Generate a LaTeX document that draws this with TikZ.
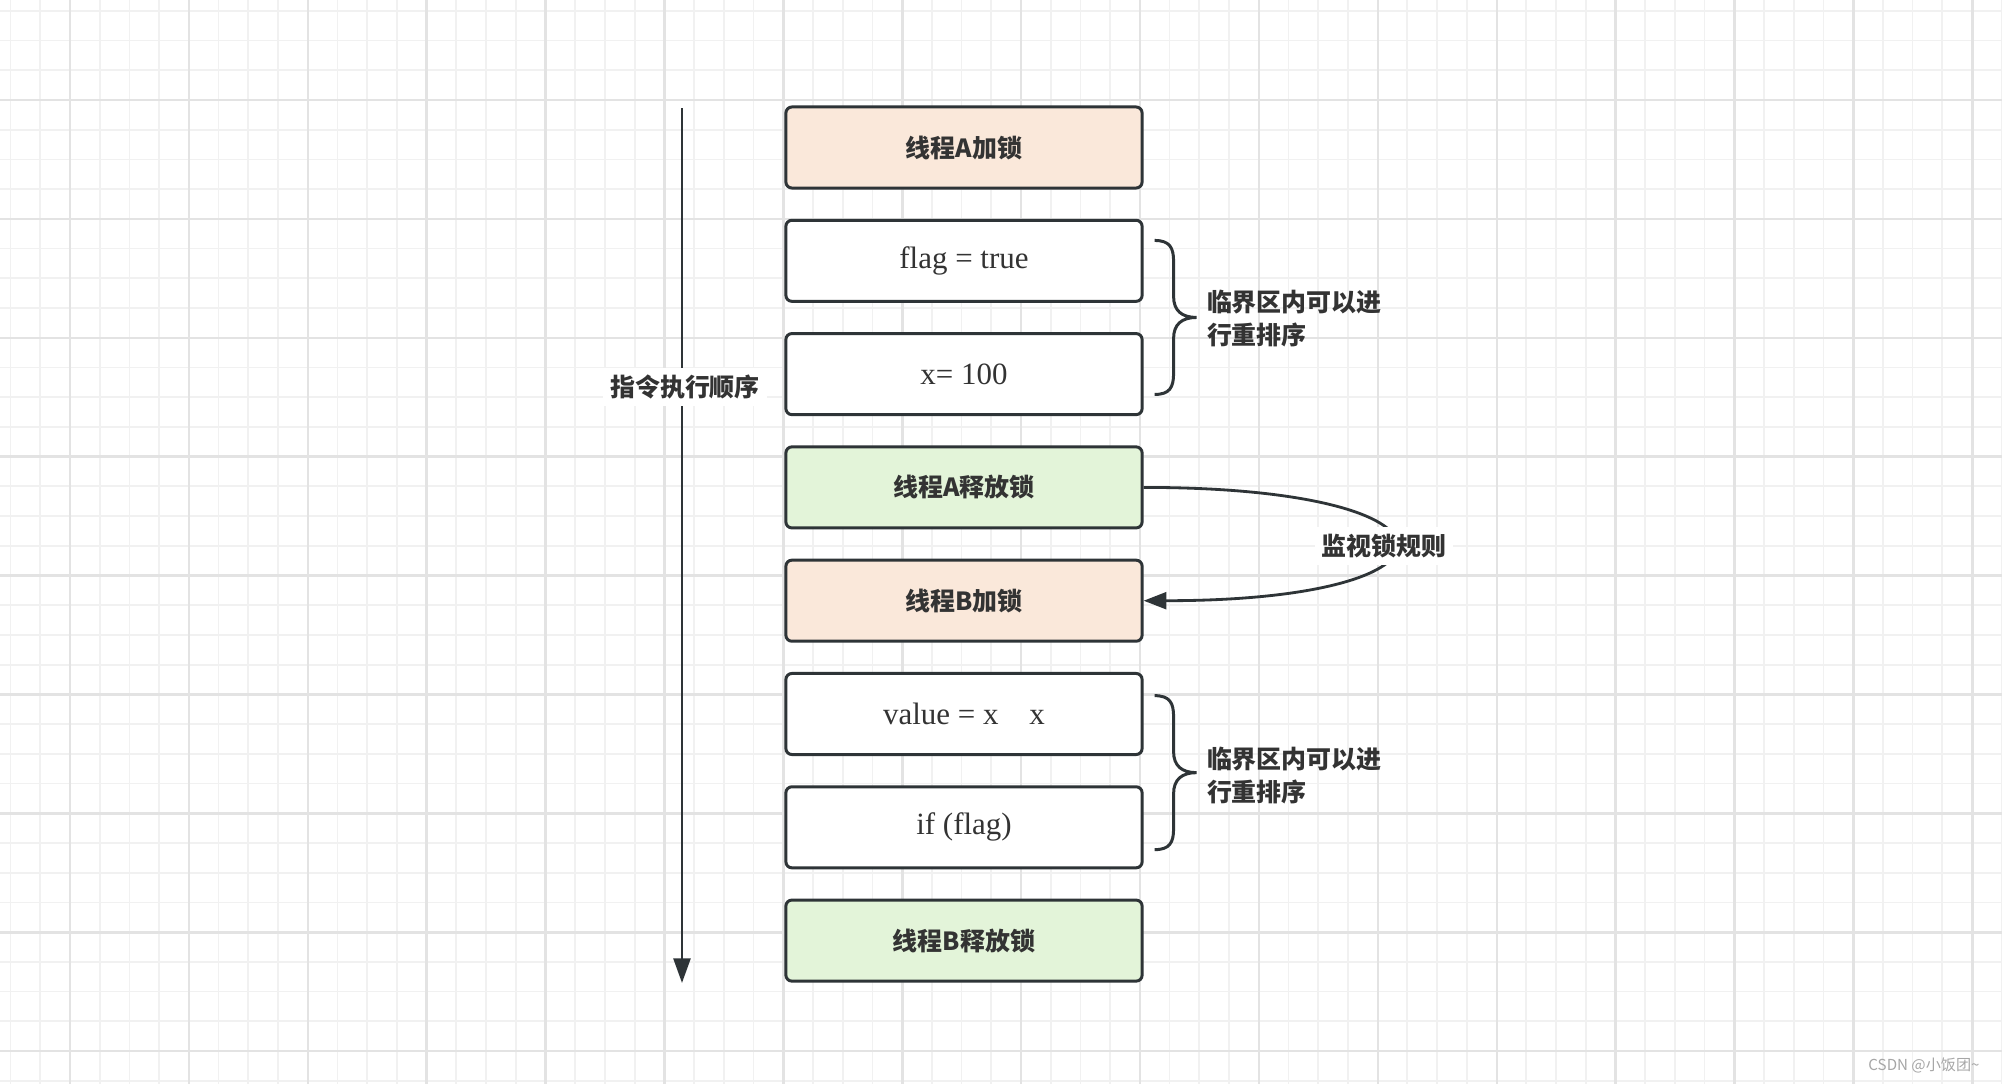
\documentclass[tikz,border=0pt]{standalone}
\usepackage{fontspec}
\setmainfont{Liberation Serif}
\newfontfamily\cjk{Noto Sans CJK SC}
\usetikzlibrary{arrows.meta,calc}

\definecolor{inkdark}{HTML}{2E3437}
\definecolor{textgray}{HTML}{333333}
\definecolor{peach}{HTML}{FAE8DA}
\definecolor{mint}{HTML}{E3F4D9}
\definecolor{gridminor}{HTML}{F1F1F1}
\definecolor{gridmajor}{HTML}{E3E3E3}
\definecolor{marktext}{HTML}{A6A6A6}

\tikzset{
  instr/.style={draw=inkdark, line width=0.85pt, rounded corners=1.7pt,
    minimum width=3.56cm, minimum height=0.81cm, text=textgray, fill=white},
  lockinstr/.style={instr, fill=peach, font=\cjk\bfseries\fontsize{7.1}{8}\selectfont},
  unlockinstr/.style={instr, fill=mint, font=\cjk\bfseries\fontsize{7.1}{8}\selectfont},
  codeinstr/.style={instr, font=\fontsize{8.8}{9.5}\selectfont},
  remark/.style={text=textgray, font=\cjk\bfseries\fontsize{7.1}{9.4}\selectfont},
  flow/.style={draw=inkdark, line width=0.8pt},
  bracket/.style={draw=inkdark, line width=0.85pt},
  thingrid/.style={draw=gridminor, line width=0.5pt},
  thickgrid/.style={draw=gridmajor, line width=0.7pt},
  reorder/.pic={
    \draw[bracket] (-42,-77) .. controls (-27,-77) and (-23,-70) .. (-23,-56)
      -- (-23,-21) .. controls (-23,-7) and (-15,0) .. (0,0)
      .. controls (-15,0) and (-23,7) .. (-23,21)
      -- (-23,56) .. controls (-23,70) and (-27,77) .. (-42,77);
  }
}

\begin{document}
\begin{tikzpicture}[x=0.01cm, y=-0.01cm]
  \useasboundingbox (0,0) rectangle (2002,1084);
  \clip (0,0) rectangle (2002,1084);
  \fill[white] (0,0) rectangle (2002,1084);
  % background grid
  \foreach \i in {0,...,67}
    \draw[thingrid] ({10.5+29.72*\i},0) -- ({10.5+29.72*\i},1084);
  \foreach \j in {0,...,36}
    \draw[thingrid] (0,{10.8+29.72*\j}) -- (2002,{10.8+29.72*\j});
  \foreach \i in {0,...,16}
    \draw[thickgrid] ({70+118.9*\i},0) -- ({70+118.9*\i},1084);
  \foreach \j in {0,...,8}
    \draw[thickgrid] (0,{100+118.9*\j}) -- (2002,{100+118.9*\j});

  % instructions
  \node[lockinstr]   (lockA)    at (964,147.5) {线程A加锁};
  \node[codeinstr]   (flagset)  at (964,260.8) {flag = true};
  \node[codeinstr]   (xset)     at (964,374.1) {x= 100};
  \node[unlockinstr] (unlockA)  at (964,487.4) {线程A释放锁};
  \node[lockinstr]   (lockB)    at (964,600.7) {线程B加锁};
  \node[codeinstr]   (valueget) at (964,714.0) {value = x\quad x};
  \node[codeinstr]   (ifflag)   at (964,827.3) {if (flag)};
  \node[unlockinstr] (unlockB)  at (964,940.6) {线程B释放锁};

  % execution order
  \coordinate (ordertop) at (682,108);
  \coordinate (orderend) at (682,983);
  \draw[flow, -{Triangle[length=7pt,width=4.8pt]}] (ordertop) -- (orderend);
  \node[remark, fill=white, inner sep=2pt] (order) at (685,387) {指令执行顺序};

  % reordering inside critical sections
  \coordinate (tip1) at ($(flagset.east)!0.5!(xset.east)+(53,0)$);
  \coordinate (tip2) at ($(valueget.east)!0.5!(ifflag.east)+(53,2)$);
  \pic at (tip1) {reorder};
  \pic at (tip2) {reorder};
  \node[remark, anchor=west, align=left] (crit1) at ($(tip1)+(-2,1)$) {临界区内可以进\\行重排序};
  \node[remark, anchor=west, align=left] (crit2) at ($(tip2)+(-2,3)$) {临界区内可以进\\行重排序};

  % monitor lock rule
  \draw[flow, -{Triangle[length=6.5pt,width=4.8pt]}]
    (unlockA.east) .. controls +(335,0) and +(335,0) .. (lockB.east);
  \node[remark, fill=white, inner sep=2pt] (monitor) at (1384,546) {监视锁规则};

  % watermark
  \node[text=marktext, font=\cjk\fontsize{4.3}{5}\selectfont] (mark) at (1924,1065) {CSDN @小饭团\textasciitilde};
\end{tikzpicture}
\end{document}
